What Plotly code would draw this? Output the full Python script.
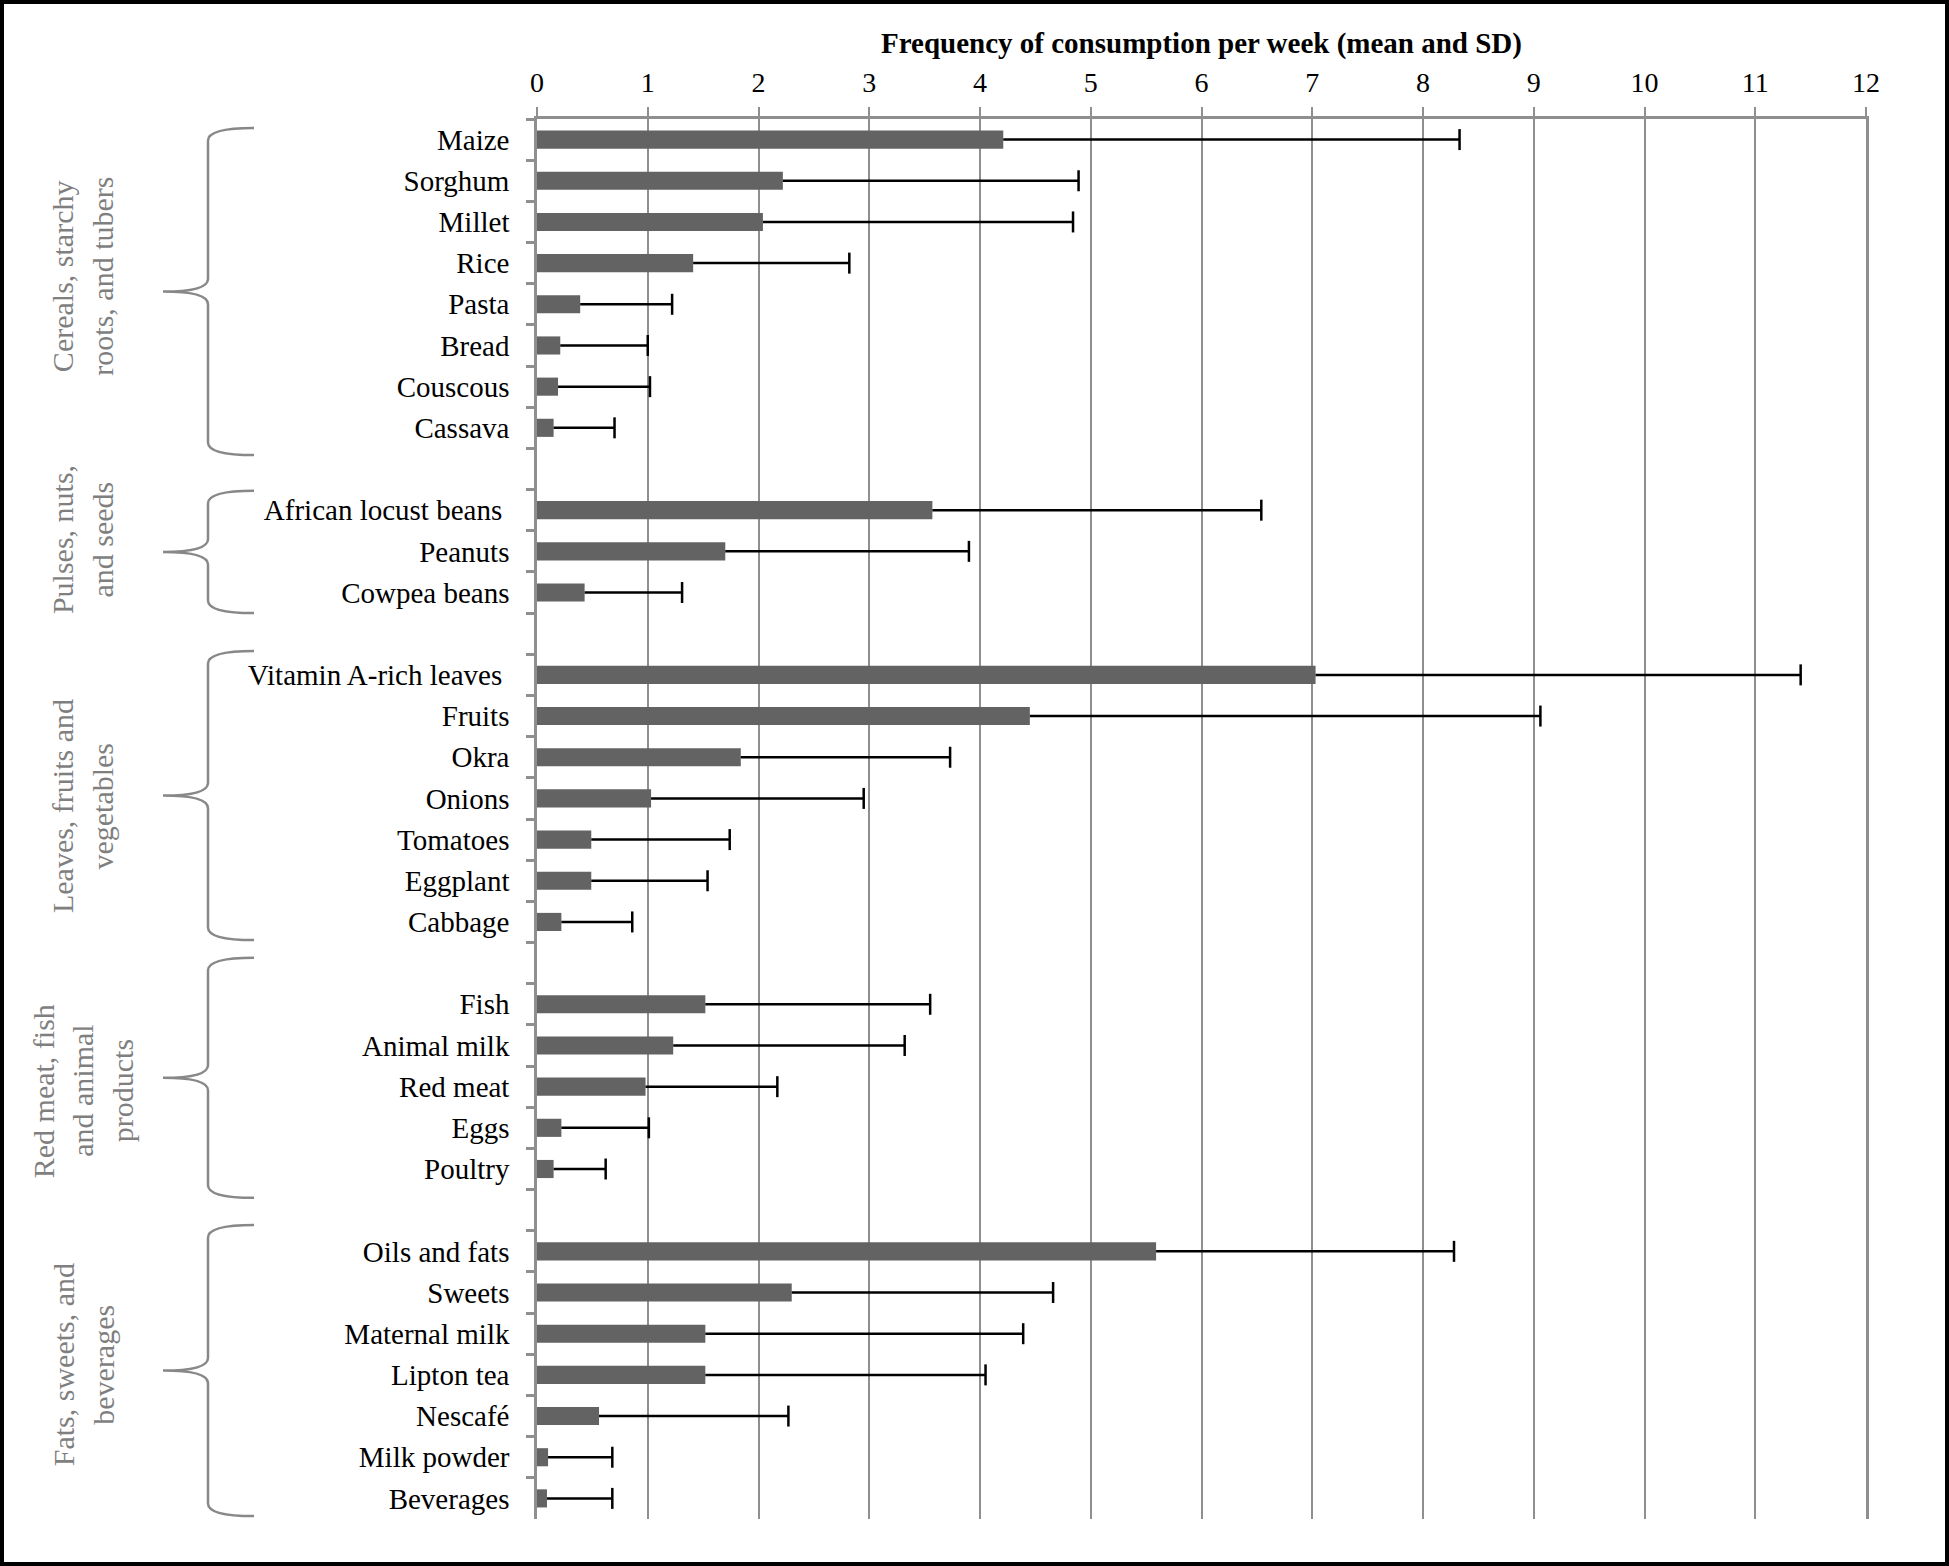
import plotly.graph_objects as go

# ---------------- data ----------------
GROUP_LABELS = [
    ["Cereals, starchy", "roots, and tubers"],
    ["Pulses, nuts,", "and seeds"],
    ["Leaves, fruits and", "vegetables"],
    ["Red meat, fish", "and animal", "products"],
    ["Fats, sweets, and", "beverages"],
]

cereal_foods = ["Maize", "Sorghum", "Millet", "Rice", "Pasta", "Bread", "Couscous", "Cassava"]
cereal_mean = [4.21, 2.22, 2.04, 1.41, 0.39, 0.21, 0.19, 0.15]
cereal_sd = [4.12, 2.67, 2.80, 1.41, 0.83, 0.79, 0.83, 0.55]

pulse_foods = ["African locust beans ", "Peanuts", "Cowpea beans"]
pulse_mean = [3.57, 1.70, 0.43]
pulse_sd = [2.97, 2.20, 0.88]

leaf_foods = ["Vitamin A-rich leaves ", "Fruits", "Okra", "Onions", "Tomatoes", "Eggplant", "Cabbage"]
leaf_mean = [7.03, 4.45, 1.84, 1.03, 0.49, 0.49, 0.22]
leaf_sd = [4.38, 4.61, 1.89, 1.92, 1.25, 1.05, 0.64]

meat_foods = ["Fish", "Animal milk", "Red meat", "Eggs", "Poultry"]
meat_mean = [1.52, 1.23, 0.98, 0.22, 0.15]
meat_sd = [2.03, 2.09, 1.19, 0.79, 0.47]

fat_foods = ["Oils and fats", "Sweets", "Maternal milk", "Lipton tea", "Nescafé", "Milk powder", "Beverages"]
fat_mean = [5.59, 2.30, 1.52, 1.52, 0.56, 0.10, 0.09]
fat_sd = [2.69, 2.36, 2.87, 2.53, 1.71, 0.58, 0.59]

x_ticks = list(range(0, 13))
x_title = "Frequency of consumption per week (mean and SD)"

groups = [
    (cereal_foods, cereal_mean, cereal_sd),
    (pulse_foods, pulse_mean, pulse_sd),
    (leaf_foods, leaf_mean, leaf_sd),
    (meat_foods, meat_mean, meat_sd),
    (fat_foods, fat_mean, fat_sd),
]

# build category order with blank spacer rows between groups
cats, means, sds = [], [], []
for gi, (f, m, s) in enumerate(groups):
    if gi > 0:
        cats.append(" " * gi)
        means.append(None)
        sds.append(None)
    cats.extend(f)
    means.extend(m)
    sds.extend(s)
N = len(cats)

# ---------------- layout constants ----------------
W, H = 1949, 1566
ML, MR, MT, MB = 537, 83, 119, 47
PW = W - ML - MR
PH = H - MT - MB
GRID = "#8f8f8f"
SERIF = "Liberation Serif, Times New Roman, serif"


def px_x(px):
    return (px - ML) / PW


def cat_y(c):
    # category coordinate -> paper (axis reversed, range [N-0.5, -0.5])
    return 1 - (c + 0.5) / N


def pix_y(py):
    return (H - MB - py) / PH


fig = go.Figure()

fig.add_trace(go.Bar(
    y=cats, x=means, orientation="h",
    marker=dict(color="#636363", line=dict(width=0)),
    width=0.44, showlegend=False, hoverinfo="skip",
))

# error lines (positive side only)
ex, ey, cx, cy = [], [], [], []
for c, m, s in zip(cats, means, sds):
    if m is None:
        continue
    ex += [m, m + s, None]
    ey += [c, c, None]
    cx.append(m + s)
    cy.append(c)

fig.add_trace(go.Scatter(
    x=ex, y=ey, mode="lines", line=dict(color="black", width=2.5),
    showlegend=False, hoverinfo="skip",
))
fig.add_trace(go.Scatter(
    x=cx, y=cy, mode="markers",
    marker=dict(symbol="line-ns", size=15, line=dict(color="black", width=2.5)),
    showlegend=False, hoverinfo="skip",
))

# braces and group labels (positions in category units)
brace_spans = [(-0.28, 7.66), (8.53, 11.5), (12.42, 19.44), (19.87, 25.7), (26.36, 33.43)]
label_centers = [3.31, 9.72, 16.18, 23.10, 29.76]
XV, XR, XT = 208, 254, 163
shapes = []
annotations = []
for gi, (top, bot) in enumerate(brace_spans):
    yt, yb = cat_y(top), cat_y(bot)
    ym = (yt + yb) / 2
    r = 0.009
    path = (
        f"M {px_x(XR)},{yt} Q {px_x(XV)},{yt} {px_x(XV)},{yt - r} "
        f"L {px_x(XV)},{ym + r} Q {px_x(XV)},{ym} {px_x(XT)},{ym} "
        f"Q {px_x(XV)},{ym} {px_x(XV)},{ym - r} "
        f"L {px_x(XV)},{yb + r} Q {px_x(XV)},{yb} {px_x(XR)},{yb}"
    )
    shapes.append(dict(type="path", xref="paper", yref="paper", path=path,
                       line=dict(color="#888888", width=2.5)))
    lines = GROUP_LABELS[gi]
    n = len(lines)
    for li, txt in enumerate(lines):
        xc = 83 + (li - (n - 1) / 2) * 39.5
        annotations.append(dict(
            text=txt, xref="paper", yref="paper", x=px_x(xc), y=cat_y(label_centers[gi]),
            xanchor="center", yanchor="middle", textangle=-90, showarrow=False,
            font=dict(family=SERIF, size=30, color="#7f7f7f"),
        ))

# outer border
shapes.append(dict(type="rect", xref="paper", yref="paper",
                   x0=px_x(2), x1=px_x(W - 2), y0=pix_y(H - 2), y1=pix_y(2),
                   line=dict(color="black", width=4), fillcolor="rgba(0,0,0,0)"))

fig.update_layout(
    width=W, height=H,
    margin=dict(l=ML, r=MR, t=MT, b=MB),
    paper_bgcolor="white", plot_bgcolor="white",
    font=dict(family=SERIF, size=29, color="black"),
    shapes=shapes, annotations=annotations,
    xaxis=dict(
        side="top", range=[0, 12], tickvals=x_ticks, ticktext=[str(t) for t in x_ticks],
        showgrid=True, gridcolor=GRID, gridwidth=2,
        showline=True, linecolor=GRID, linewidth=3,
        ticks="outside", ticklen=9, tickcolor=GRID, tickwidth=2,
        zeroline=False, ticklabelstandoff=4,
        tickfont=dict(family=SERIF, size=28, color="black"),
        title=dict(text="<b>" + x_title + "</b>", standoff=5,
                   font=dict(family=SERIF, size=29, color="black")),
    ),
    yaxis=dict(
        type="category", categoryorder="array", categoryarray=cats,
        range=[N - 0.5, -0.5],
        tickson="boundaries", ticks="outside", ticklen=8, tickcolor=GRID, tickwidth=2.5,
        showline=True, mirror=True, linecolor=GRID, linewidth=2.5,
        showgrid=False, zeroline=False,
        ticklabelstandoff=19,
        tickfont=dict(family=SERIF, size=29, color="black"),
    ),
    bargap=0.56,
)

fig.write_html(
    "out.html",
    config={"displayModeBar": False},
    post_script="document.body.style.margin='0';document.body.style.overflow='hidden';",
)
